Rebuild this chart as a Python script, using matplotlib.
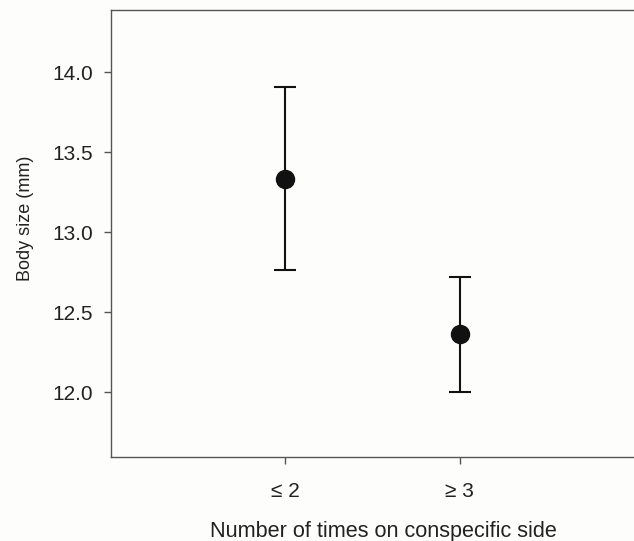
import matplotlib
matplotlib.use("Agg")
import matplotlib.pyplot as plt

# data
groups = ["\u2264 2", "\u2265 3"]
positions = [1, 2]
means = [13.336, 12.362]
errors = [0.571, 0.360]
yticks = [12.0, 12.5, 13.0, 13.5, 14.0]

plt.rcParams["font.family"] = ["Liberation Sans", "DejaVu Sans"]

fig = plt.figure(figsize=(6.34, 5.41), dpi=100, facecolor="#fdfdfb")
ax = fig.add_axes([111 / 634, 1 - 457 / 541, 1 - 111 / 634, (457 - 10) / 541])
ax.set_facecolor("#fdfdfb")

ax.errorbar(positions, means, yerr=errors, fmt="o", color="#111111",
            markersize=13, elinewidth=1.5, capsize=8, capthick=1.5)

ax.set_xlim(0, 3)
ax.set_ylim(11.595, 14.39)
ax.set_xticks(positions)
ax.set_xticklabels(groups)
ax.set_yticks(yticks)
ax.set_yticklabels([f"{v:.1f}" for v in yticks])

for side in ["left", "top", "bottom"]:
    ax.spines[side].set_color("#555555")
    ax.spines[side].set_linewidth(1.0)
ax.spines["right"].set_visible(False)

ax.tick_params(axis="both", direction="out", length=5, width=1.0,
               color="#555555", labelsize=15, labelcolor="#222222")
ax.tick_params(axis="x", pad=13)
ax.tick_params(axis="y", pad=8)

fig.text(383 / 634, 1 - 537 / 541, "Number of times on conspecific side",
         fontsize=15.6, color="#222222", ha="center", va="baseline")
fig.text(25 / 634, 1 - 218 / 541, "Body size (mm)", rotation=90,
         fontsize=13, color="#222222", ha="center", va="center")

fig.savefig("out.png", dpi=100, facecolor=fig.get_facecolor())
